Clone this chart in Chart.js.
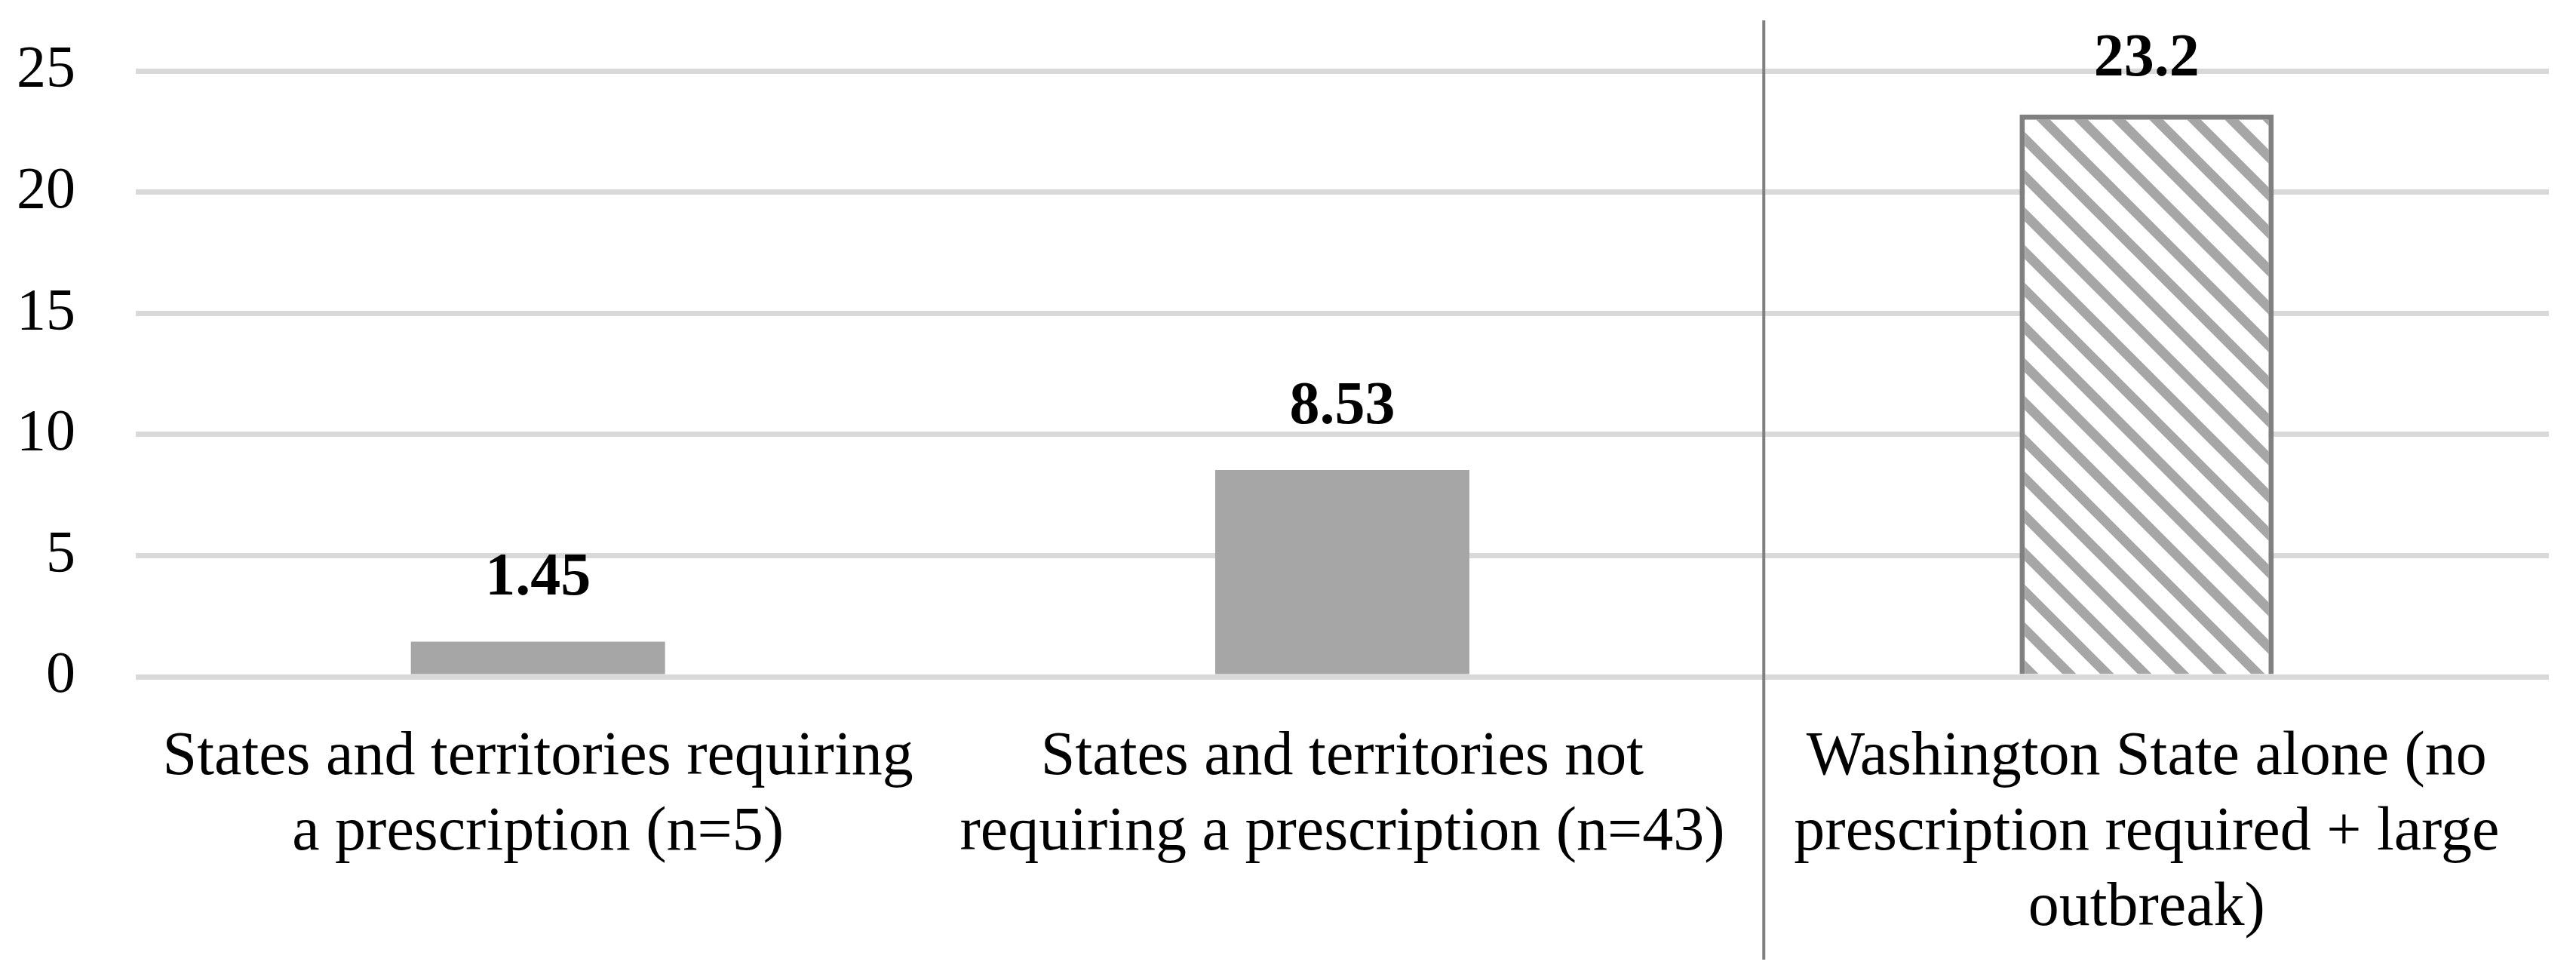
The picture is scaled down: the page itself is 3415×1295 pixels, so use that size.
<!DOCTYPE html>
<html>
<head>
<meta charset="utf-8">
<script src="https://cdn.jsdelivr.net/npm/chart.js@4.4.1/dist/chart.umd.min.js"></script>
<style>
  html, body { margin: 0; padding: 0; background: #fff; }
  #wrap { width: 3415px; height: 1295px; position: relative; }
</style>
</head>
<body>
<div id="wrap"><canvas id="chart"></canvas></div>
<script>
const categories = [
    ['States and territories requiring', 'a prescription (n=5)'],
    ['States and territories not', 'requiring a prescription (n=43)'],
    ['Washington State alone (no', 'prescription required + large', 'outbreak)']
];
const values = [1.45, 8.53, 23.2];
const yTicks = [0, 5, 10, 15, 20, 25];
const hatched = [false, false, true];

const FONT = '"Palatino Linotype", "Book Antiqua", Palatino, "Liberation Serif", serif';

// wide downward diagonal hatch like the Excel pattern fill
function makeHatch() {
    const tile = document.createElement('canvas');
    tile.width = 50;
    tile.height = 50;
    const t = tile.getContext('2d');
    t.fillStyle = '#ffffff';
    t.fillRect(0, 0, 50, 50);
    t.strokeStyle = '#a6a6a6';
    t.lineWidth = 13;
    [[-25, -25, 75, 75], [-25, 25, 25, 75], [25, -25, 75, 25]].forEach(s => {
        t.beginPath();
        t.moveTo(s[0], s[1]);
        t.lineTo(s[2], s[3]);
        t.stroke();
    });
    return document.getElementById('chart').getContext('2d').createPattern(tile, 'repeat');
}
const hatch = makeHatch();

const valueLabels = {
    id: 'valueLabels',
    afterDatasetsDraw(chart) {
        const ctx = chart.ctx;
        const meta = chart.getDatasetMeta(0);
        ctx.save();
        ctx.font = 'bold 80px ' + FONT;
        ctx.fillStyle = '#000';
        ctx.textAlign = 'center';
        ctx.textBaseline = 'alphabetic';
        meta.data.forEach((bar, i) => {
            const y = Math.max(bar.y - 62, chart.chartArea.top + 6);
            ctx.fillText(String(values[i]), bar.x, y);
        });
        ctx.restore();
    }
};

// vertical separator before the Washington State bar
const dividerAfter = 1.524;
const divider = {
    id: 'divider',
    afterDraw(chart) {
        const ctx = chart.ctx;
        const x = chart.scales.x.getPixelForValue(dividerAfter);
        ctx.save();
        ctx.strokeStyle = '#808080';
        ctx.lineWidth = 4;
        ctx.beginPath();
        ctx.moveTo(x, 27);
        ctx.lineTo(x, chart.height - 23);
        ctx.stroke();
        ctx.restore();
    }
};

new Chart(document.getElementById('chart'), {
    type: 'bar',
    data: {
        labels: categories,
        datasets: [{
            data: values,
            backgroundColor: hatched.map(h => h ? hatch : '#a6a6a6'),
            borderColor: hatched.map(h => h ? '#808080' : 'rgba(0,0,0,0)'),
            borderWidth: hatched.map(h => h ? 7 : 0),
            barPercentage: 0.316,
            categoryPercentage: 1
        }]
    },
    options: {
        responsive: true,
        maintainAspectRatio: false,
        animation: false,
        layout: { padding: { top: 94, right: 36, bottom: 0, left: 0 } },
        plugins: {
            legend: { display: false },
            tooltip: { enabled: false }
        },
        scales: {
            x: {
                grid: { display: false, drawTicks: false },
                border: { display: false },
                ticks: {
                    color: '#000',
                    font: { family: FONT, size: 82, lineHeight: 1.22 },
                    padding: 57,
                    maxRotation: 0,
                    autoSkip: false
                },
                afterFit(scale) {
                    scale.height = 398;
                    scale.paddingLeft = 0;
                    scale.paddingRight = 0;
                }
            },
            y: {
                min: 0,
                max: 25,
                grid: { color: '#d9d9d9', lineWidth: 7, drawTicks: false },
                border: { display: false },
                afterBuildTicks(scale) { scale.ticks = yTicks.map(v => ({ value: v })); },
                ticks: {
                    color: '#000',
                    font: { family: FONT, size: 78 },
                    padding: 80
                },
                afterFit(scale) {
                    scale.width = 180;
                    scale.paddingTop = 0;
                    scale.paddingBottom = 0;
                }
            }
        }
    },
    plugins: [valueLabels, divider]
});
</script>
</body>
</html>
